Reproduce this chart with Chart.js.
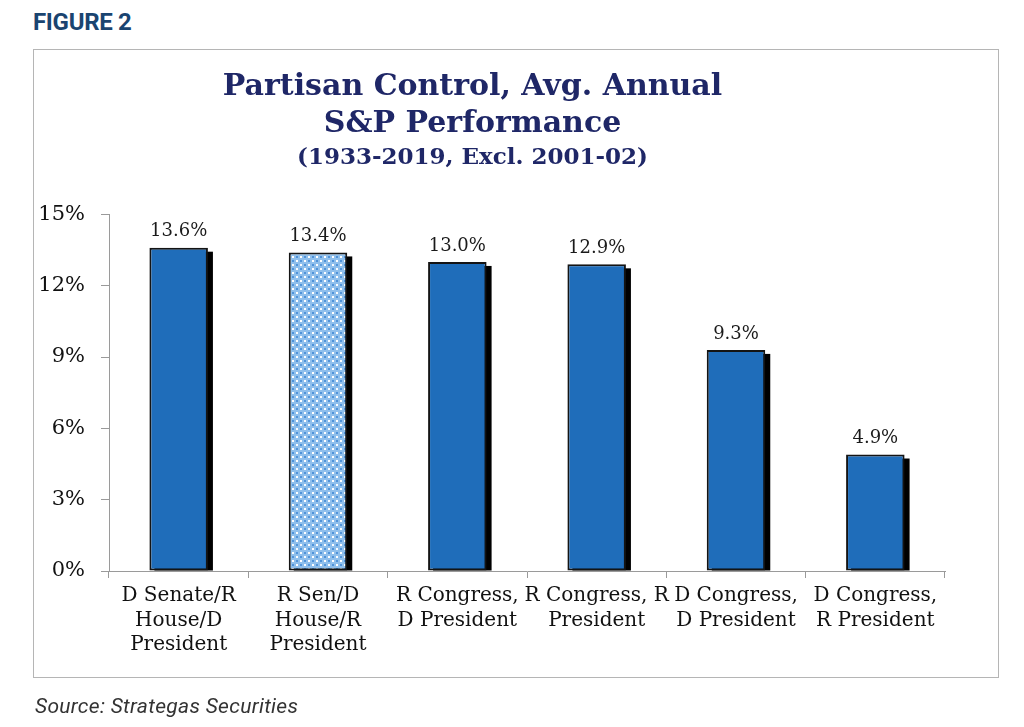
<!DOCTYPE html>
<html lang="en">
<head>
  <meta charset="UTF-8">
  <title>Partisan Control, Avg. Annual S&amp;P Performance</title>
  <script src="https://cdn.jsdelivr.net/npm/chart.js"></script>
  <style>
    body { margin: 0; background: #fff; width: 1024px; height: 727px; position: relative; overflow: hidden; }
    .fig { position: absolute; left: 33px; top: 8px; font: bold 24px Roboto, sans-serif; color: #1a4470; letter-spacing: -0.3px; }
    .frame { position: absolute; left: 33px; top: 49px; width: 964px; height: 627px; border: 1px solid #b5b5b5; }
    .wrap { position: absolute; left: 0; top: 0; width: 992px; height: 727px; }
    .source { position: absolute; left: 35px; top: 694px; font: italic 21px Roboto, sans-serif; color: #333; letter-spacing: 0.3px; }
  </style>
</head>
<body>
  <div class="fig">FIGURE 2</div>
  <div class="frame"></div>
  <div class="wrap"><canvas id="barChart"></canvas></div>
  <div class="source">Source: Strategas Securities</div>
  <script>
    // categorias e valores
    const categorias = [
      ['D Senate/R', 'House/D', 'President'],
      ['R Sen/D', 'House/R', 'President'],
      ['R Congress,', 'D President'],
      ['R Congress, R', 'President'],
      ['D Congress,', 'D President'],
      ['D Congress,', 'R President']
    ];
    const retornos = [13.6, 13.4, 13.0, 12.9, 9.3, 4.9];
    const yTicks = [0, 3, 6, 9, 12, 15];

    const azul = '#1f6dba';
    const serif = '"DejaVu Serif", Georgia, serif';

    // padrão pontilhado da segunda barra
    function criarPadrao() {
      const c = document.createElement('canvas');
      c.width = 8; c.height = 8;
      const p = c.getContext('2d');
      p.fillStyle = '#8fbfec';
      p.fillRect(0, 0, 8, 8);
      p.fillStyle = '#4f92d8';
      p.fillRect(0, 0, 2, 2);
      p.fillRect(4, 4, 2, 2);
      p.fillStyle = '#ffffff';
      p.fillRect(4, 0, 2, 2);
      p.fillRect(0, 4, 2, 2);
      return p.createPattern(c, 'repeat');
    }

    // sombra preta atrás das barras
    const sombra = {
      id: 'sombra',
      beforeDatasetsDraw(chart) {
        const ctx = chart.ctx, area = chart.chartArea;
        ctx.save();
        ctx.beginPath();
        ctx.rect(area.left, area.top - 20, area.right - area.left, area.bottom - area.top + 20);
        ctx.clip();
        ctx.fillStyle = '#000';
        chart.getDatasetMeta(0).data.forEach(bar => {
          const { x, y, base, width } = bar.getProps(['x', 'y', 'base', 'width'], true);
          ctx.fillRect(x - width / 2 + 5, y + 4, width, base - y - 4);
        });
        ctx.restore();
      }
    };

    // rótulos de valor acima das barras
    const rotulos = {
      id: 'rotulos',
      afterDatasetsDraw(chart) {
        const ctx = chart.ctx;
        ctx.save();
        ctx.font = '18px ' + serif;
        ctx.fillStyle = '#1a1a1a';
        ctx.textAlign = 'center';
        ctx.textBaseline = 'bottom';
        chart.getDatasetMeta(0).data.forEach((bar, i) => {
          ctx.fillText(retornos[i].toFixed(1) + '%', bar.x, bar.y - 7);
        });
        ctx.restore();
      }
    };

    const ctx = document.getElementById('barChart').getContext('2d');
    const cores = retornos.map((_, i) => i === 1 ? criarPadrao() : azul);

    new Chart(ctx, {
      type: 'bar',
      data: {
        labels: categorias,
        datasets: [{
          data: retornos,
          backgroundColor: cores,
          borderColor: '#141414',
          borderWidth: 2,
          borderSkipped: false,
          categoryPercentage: 1,
          barPercentage: 0.42
        }]
      },
      options: {
        responsive: true,
        maintainAspectRatio: false,
        animation: false,
        layout: { padding: { left: 0, right: 47, top: 0, bottom: 56 } },
        plugins: {
          legend: { display: false },
          tooltip: { enabled: false },
          title: {
            display: true,
            text: ['Partisan Control, Avg. Annual', 'S&P Performance'],
            color: '#1f2767',
            font: { family: serif, size: 30, weight: 'bold', lineHeight: 1.23 },
            padding: { top: 69, bottom: 0 }
          },
          subtitle: {
            display: true,
            text: '(1933-2019, Excl. 2001-02)',
            color: '#1f2767',
            font: { family: serif, size: 23, weight: 'bold', lineHeight: 1.2 },
            padding: { top: 1, bottom: 43 }
          }
        },
        scales: {
          x: {
            afterFit: s => { s.height = 100; },
            border: { color: '#9a9a9a', width: 1 },
            grid: { display: true, drawOnChartArea: false, color: '#9a9a9a', tickLength: 7, offset: true },
            ticks: {
              color: '#111',
              font: { family: serif, size: 20, lineHeight: 1.22 },
              padding: 6,
              maxRotation: 0,
              autoSkip: false
            }
          },
          y: {
            min: 0,
            max: 15,
            afterFit: s => { s.width = 109; },
            afterBuildTicks: s => { s.ticks = yTicks.map(v => ({ value: v })); },
            border: { color: '#9a9a9a', width: 1 },
            grid: { display: true, drawOnChartArea: false, color: '#9a9a9a', tickLength: 8 },
            ticks: {
              color: '#111',
              font: { family: serif, size: 21 },
              padding: 16,
              callback: v => v + '%'
            }
          }
        }
      },
      plugins: [sombra, rotulos]
    });
  </script>
</body>
</html>
